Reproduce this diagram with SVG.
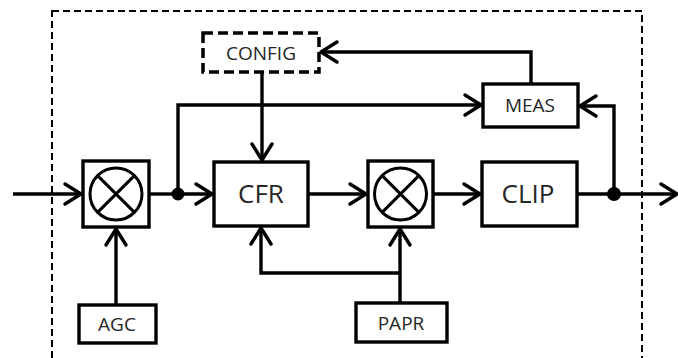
<svg xmlns="http://www.w3.org/2000/svg" width="678" height="358" viewBox="0 0 678 358">
<defs>
<style>
.box{fill:#fff;stroke:#000;stroke-width:3.4}
.ln{fill:none;stroke:#000;stroke-width:3.4}
.arr{fill:none;stroke:#000;stroke-width:3.4;marker-end:url(#ah)}
.sm{font-family:"Open Sans",sans-serif;font-size:19px;fill:#262626;text-anchor:middle}
.lg{font-family:"Open Sans",sans-serif;font-size:26px;fill:#262626;text-anchor:middle}
</style>
<marker id="ah" markerUnits="userSpaceOnUse" viewBox="-20 -14 24 28" refX="0" refY="0" markerWidth="24" markerHeight="28" orient="auto" overflow="visible">
<path d="M-16,-10 L0,0 L-16,10" fill="none" stroke="#000" stroke-width="3.4" stroke-linejoin="round" stroke-linecap="round"/>
</marker>
</defs>
<rect x="0" y="0" width="678" height="358" fill="#fff"/>
<rect id="boundary" x="52" y="11" width="590" height="370" fill="none" stroke="#000" stroke-width="2" stroke-dasharray="7,4"/>

<g id="connectors">
<path class="arr" d="M13,194 H81"/>
<path class="ln" d="M149,194 H178"/>
<path class="arr" d="M178,194 H212"/>
<path class="arr" d="M178,194 V105 H481"/>
<path class="arr" d="M262,72 V160"/>
<path class="arr" d="M531,83 V52 H321"/>
<path class="arr" d="M308,194 H366"/>
<path class="arr" d="M433,194 H480"/>
<path class="ln" d="M577,194 H614"/>
<path class="arr" d="M614,194 H677"/>
<path class="arr" d="M614,194 V106 H580"/>
<path class="arr" d="M116,305 V229"/>
<path class="arr" d="M400,303 V229"/>
<path class="arr" d="M400,273 H261 V228"/>
<circle cx="178" cy="194" r="6.5" fill="#000"/>
<circle cx="614" cy="194" r="7" fill="#000"/>
</g>

<g id="config">
<rect x="203" y="33" width="116" height="39" fill="#fff" stroke="#000" stroke-width="3.5" stroke-dasharray="10,5"/>
<text class="sm" x="261" y="59.5">CONFIG</text>
</g>
<g id="meas">
<rect class="box" x="483" y="84" width="95" height="43"/>
<text class="sm" x="530" y="112">MEAS</text>
</g>
<g id="mixer1">
<rect class="box" x="83" y="161" width="66" height="66"/>
<circle cx="116" cy="194" r="26" fill="none" stroke="#000" stroke-width="3"/>
<path d="M97.6,175.6 L134.4,212.4 M134.4,175.6 L97.6,212.4" stroke="#000" stroke-width="3"/>
</g>
<g id="cfr">
<rect class="box" x="214" y="162" width="94" height="64"/>
<text class="lg" x="261" y="203">CFR</text>
</g>
<g id="mixer2">
<rect class="box" x="368" y="161" width="65" height="66"/>
<circle cx="400.5" cy="194" r="26" fill="none" stroke="#000" stroke-width="3"/>
<path d="M382.1,175.6 L418.9,212.4 M418.9,175.6 L382.1,212.4" stroke="#000" stroke-width="3"/>
</g>
<g id="clip">
<rect class="box" x="482" y="162" width="95" height="64"/>
<text class="lg" x="528" y="202.5">CLIP</text>
</g>
<g id="agc">
<rect class="box" x="79" y="305" width="77" height="38"/>
<text class="sm" x="117" y="331">AGC</text>
</g>
<g id="papr">
<rect class="box" x="356" y="303" width="91" height="39"/>
<text class="sm" x="401" y="330">PAPR</text>
</g>
</svg>
